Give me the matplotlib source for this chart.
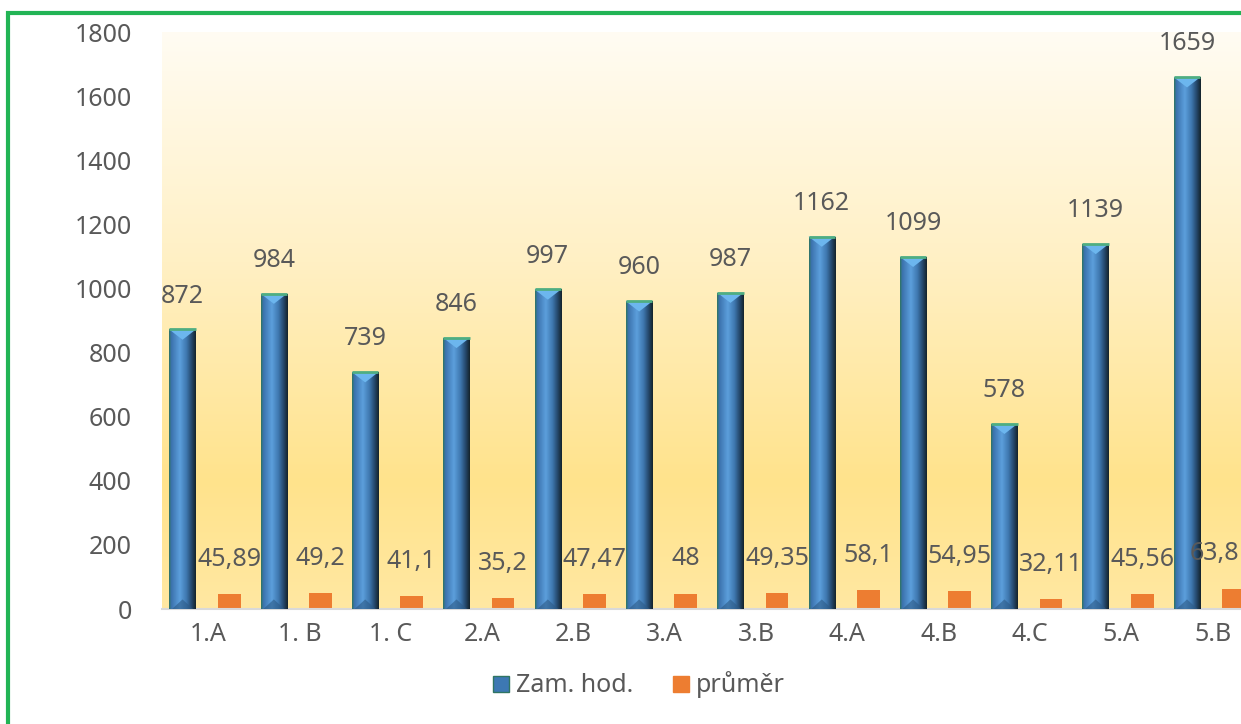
import numpy as np
import matplotlib.pyplot as plt
from matplotlib.colors import LinearSegmentedColormap
from matplotlib.lines import Line2D
from matplotlib.patches import Polygon, Rectangle

# data
tridy = ['1.A', '1. B', '1. C', '2.A', '2.B', '3.A', '3.B', '4.A', '4.B', '4.C', '5.A', '5.B']
zam_hod = [872, 984, 739, 846, 997, 960, 987, 1162, 1099, 578, 1139, 1659]
prumer = [45.89, 49.2, 41.1, 35.2, 47.47, 48, 49.35, 58.1, 54.95, 32.11, 45.56, 63.8]

txt_col = '#595959'
fs = 18
plt.rcParams['font.family'] = ['Noto Sans', 'DejaVu Sans']

fig = plt.figure(figsize=(12.41, 7.24), dpi=100)
ax = fig.add_axes([0.1309, 0.1588, 0.883, 0.797])

x = np.arange(len(tridy))
bw = 0.29
ow = 0.25
xb = x - 0.28
xo = x + 0.23

# pozadi - prechod
bg = LinearSegmentedColormap.from_list('bg', [(0, '#ffe8a2'), (0.22, '#ffe38c'),
                                              (0.6, '#fff0c4'), (1, '#fffcf3')])
grad = np.linspace(0, 1, 256).reshape(-1, 1)
ax.imshow(grad, cmap=bg, origin='lower', extent=[0, 1, 0, 1], aspect='auto',
          transform=ax.transAxes, zorder=0)

# modre sloupce se stinovanim
bars = ax.bar(xb, zam_hod, width=bw, color='#4a86c4', zorder=2, linewidth=0)
cm = LinearSegmentedColormap.from_list('col', [(0, '#2f7563'), (0.08, '#3b72ad'),
                                               (0.4, '#5c9fdc'), (0.65, '#3f78b0'),
                                               (0.85, '#24476a'), (1, '#15242c')])
hgrad = np.linspace(0, 1, 64).reshape(1, -1)
for b in bars:
    x0, y0 = b.get_x(), b.get_y()
    w, h = b.get_width(), b.get_height()
    im = ax.imshow(hgrad, cmap=cm, extent=[x0, x0 + w, y0, y0 + h], aspect='auto', zorder=3)
    im.set_clip_path(b)
    # horni zkoseni
    cap = Polygon([[x0, h], [x0 + w, h], [x0 + w / 2, h - 32]], closed=True,
                  facecolor='#6cb6ee', edgecolor='none', zorder=4)
    ax.add_patch(cap)
    ax.plot([x0, x0 + w], [h, h], color='#4fae82', lw=2, zorder=5, solid_capstyle='butt')
    bot = Polygon([[x0 + 0.03, 0], [x0 + w - 0.03, 0], [x0 + w / 2, 30]], closed=True,
                  facecolor='#2c5a86', edgecolor='none', alpha=0.6, zorder=4)
    ax.add_patch(bot)

ax.bar(xo, prumer, width=ow, color='#ed7d31', zorder=2, linewidth=0)

# popisky hodnot
for xi, v in zip(xb, zam_hod):
    ax.annotate(str(v), (xi, v), xytext=(0, 15), textcoords='offset points',
                ha='center', va='bottom', fontsize=fs, color=txt_col, zorder=6)
popisky = []
for xi, v in zip(xo, prumer):
    s = ('%g' % v).replace('.', ',')
    t = ax.annotate(s, (xi, v), xytext=(0, 16), textcoords='offset points',
                    ha='center', va='bottom', fontsize=fs, color=txt_col, zorder=6)
    popisky.append(t)

ax.set_xlim(-0.5, 11.5)
ax.set_ylim(0, 1800)
ax.set_yticks(range(0, 1801, 200))
ax.set_xticks(x)
ax.set_xticklabels(tridy)
ax.tick_params(length=0, labelsize=fs, colors=txt_col)
ax.tick_params(axis='x', pad=9)
ax.tick_params(axis='y', pad=22)
for s in ['top', 'right', 'left']:
    ax.spines[s].set_visible(False)
ax.spines['bottom'].set_color('#d9d9d9')
ax.spines['bottom'].set_linewidth(1.5)

# popisek, ktery presahuje pravy okraj, posunout doleva
fig.canvas.draw()
r = fig.canvas.get_renderer()
for t in popisky:
    bb = t.get_window_extent(r)
    if bb.x1 > fig.bbox.width - 1:
        dx = (fig.bbox.width - 2 - bb.x1) * 72 / fig.dpi
        t.xyann = (dx, 16)

handles = [Line2D([], [], marker='s', ls='', markersize=12, markerfacecolor='#3d78b3',
                  markeredgecolor='#2f7563'),
           Line2D([], [], marker='s', ls='', markersize=12, markerfacecolor='#ed7d31',
                  markeredgecolor='#ed7d31')]
fig.legend(handles, ['Zam. hod.', 'průměr'], loc='center', bbox_to_anchor=(0.513, 0.054),
           ncol=2, frameon=False, fontsize=fs, labelcolor=txt_col,
           handletextpad=0.1, columnspacing=1.4, handlelength=1.0)

# zeleny ramecek
fig.patches.append(Rectangle((8 / 1241, -0.1), 1.2, 1.0 - 13 / 724 + 0.1, transform=fig.transFigure,
                             fill=False, edgecolor='#22b455', linewidth=3, zorder=10))

fig.savefig('out.png', dpi=100)
